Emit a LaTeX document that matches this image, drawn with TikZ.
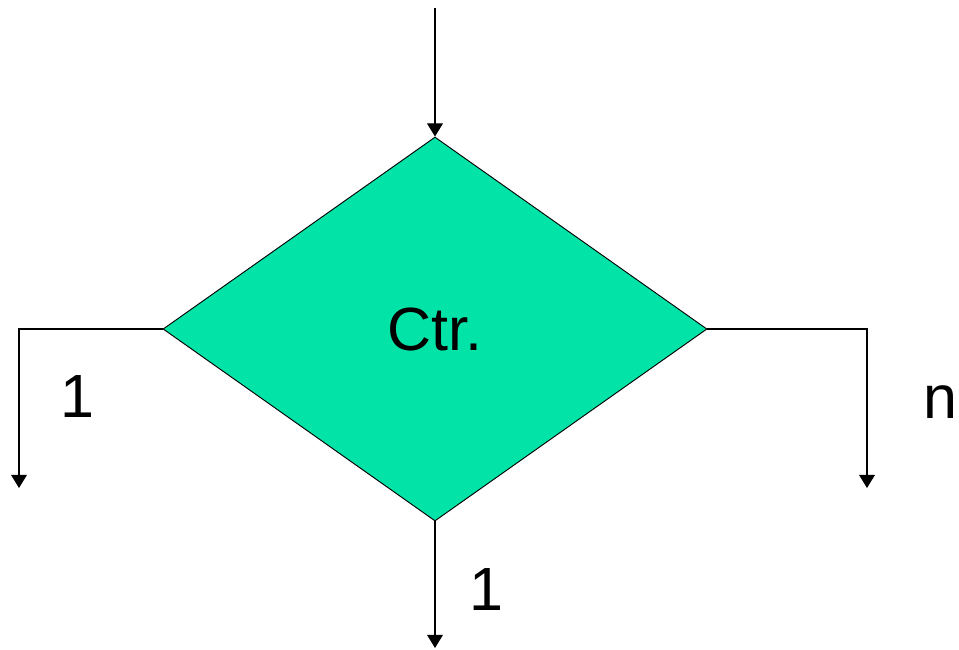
\documentclass[tikz,border=0pt]{standalone}
\usepackage{fontspec}
\setmainfont{Liberation Sans}
\usetikzlibrary{shapes.geometric,arrows.meta}
\definecolor{ctrgreen}{RGB}{2,227,168}
\tikzset{
  conn/.style={line width=0.9pt, -{Triangle[length=10pt,width=12pt]}},
  lbl/.style={inner sep=0pt, font=\fontsize{46}{54}\selectfont}
}
\begin{document}
\begin{tikzpicture}[x=0.0265cm, y=-0.0265cm]

  % --- frame ---
  \useasboundingbox (0,0) rectangle (959,649);

  % --- decision ---
  \node[diamond, draw, line width=0.7pt, fill=ctrgreen, inner sep=0pt,
        minimum width=544*0.0265cm, minimum height=384*0.0265cm,
        font=\fontsize{46}{54}\selectfont] (ctr) at (435,329) {Ctr.};

  % --- ends ---
  \coordinate (in) at (435,8);
  \coordinate (outl) at (19,488);
  \coordinate (outr) at (867,488);
  \coordinate (outb) at (435,648);

  % --- connectors ---
  \draw[conn] (in) -- (ctr.north);
  \draw[conn] (ctr.west) -| (outl);
  \draw[conn] (ctr.east) -| (outr);
  \draw[conn] (ctr.south) -- (outb);

  % --- labels ---
  \node[lbl] (lbl1) at (77,397) {1};
  \node[lbl] (lbln) at (940,402) {n};
  \node[lbl] (lblb) at (486,590) {1};

\end{tikzpicture}
\end{document}
